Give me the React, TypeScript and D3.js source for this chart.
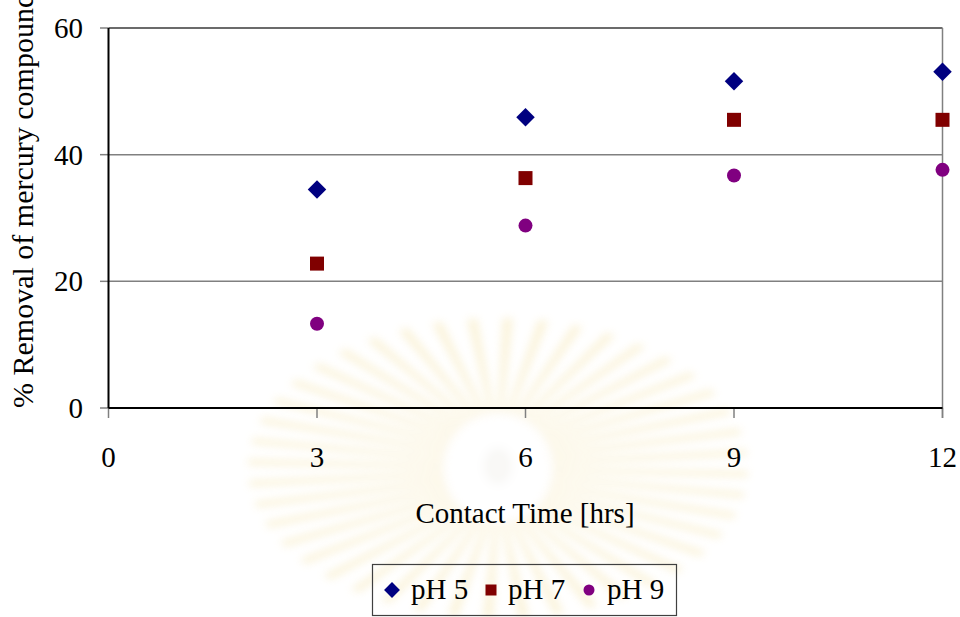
import React from "react";
import * as d3 from "d3";

// Contact time (hours) and % removal of mercury compounds at each pH
const contactHours = [3, 6, 9, 12];
const removalPH5 = [34.5, 45.9, 51.6, 53.1];
const removalPH7 = [22.8, 36.3, 45.5, 45.5];
const removalPH9 = [13.3, 28.8, 36.7, 37.6];

const xTicks = [0, 3, 6, 9, 12];
const yTicks = [0, 20, 40, 60];
const seriesNames = ["pH 5", "pH 7", "pH 9"];
const seriesColors = ["#000080", "#800000", "#800080"];

const W = 960;
const H = 617;
const FONT = "'Liberation Serif', 'Times New Roman', serif";

export default function App() {
  const x = d3.scaleLinear().domain([0, 12]).range([108.5, 942.5]);
  const y = d3.scaleLinear().domain([0, 60]).range([408, 28]);

  const series = [removalPH5, removalPH7, removalPH9];

  const diamond = (cx: number, cy: number, r: number) =>
    `M${cx},${cy - r}L${cx + r},${cy}L${cx},${cy + r}L${cx - r},${cy}Z`;

  const marker = (i: number, cx: number, cy: number, s: number) => {
    const c = seriesColors[i];
    if (i === 0) return <path d={diamond(cx, cy, s * 0.66)} fill={c} />;
    if (i === 1)
      return <rect x={cx - s / 2} y={cy - s / 2} width={s} height={s} fill={c} />;
    return <circle cx={cx} cy={cy} r={s / 2} fill={c} />;
  };

  // faint emblem behind the chart: a ring of soft rays around a pale centre
  const emblemCx = 498;
  const emblemCy = 468;
  const nRays = 44;
  const rays = d3.range(nRays).map((k) => {
    const step = (Math.PI * 2) / nRays;
    const a0 = k * step;
    const a1 = a0 + step * 0.55;
    const am = (a0 + a1) / 2;
    const r0 = 54;
    const rx = 250;
    const ry = 150;
    const p0 = [emblemCx + r0 * Math.cos(a0), emblemCy + r0 * Math.sin(a0)];
    const p1 = [emblemCx + r0 * Math.cos(a1), emblemCy + r0 * Math.sin(a1)];
    const t0 = [emblemCx + rx * Math.cos(am - step * 0.14), emblemCy + ry * Math.sin(am - step * 0.14)];
    const t1 = [emblemCx + rx * Math.cos(am + step * 0.14), emblemCy + ry * Math.sin(am + step * 0.14)];
    return `M${p0[0]},${p0[1]}L${t0[0]},${t0[1]}L${t1[0]},${t1[1]}L${p1[0]},${p1[1]}Z`;
  });

  return (
    <svg
      width={W}
      height={H}
      style={{ position: "fixed", left: 0, top: 0, background: "#fff" }}
      fontFamily={FONT}
    >
      <defs>
        <filter id="soft" x="-20%" y="-20%" width="140%" height="140%">
          <feGaussianBlur stdDeviation="4" />
        </filter>
      </defs>
      <rect width={W} height={H} fill="#fff" />

      <g filter="url(#soft)" opacity={0.42}>
        {rays.map((d, i) => (
          <path key={i} d={d} fill="#f4e2a6" />
        ))}
        <circle cx={emblemCx} cy={emblemCy} r={52} fill="#fff" />
        <ellipse cx={emblemCx} cy={emblemCy - 2} rx={14} ry={18} fill="#f1efea" />
      </g>

      {/* horizontal gridlines */}
      {yTicks
        .filter((t) => t > 0)
        .map((t) => (
          <line
            key={t}
            x1={x(0)}
            x2={x(12)}
            y1={y(t)}
            y2={y(t)}
            stroke={t === 60 ? "#3a3a3a" : "#808080"}
            strokeWidth={1.5}
          />
        ))}
      {/* right border */}
      <line x1={x(12)} x2={x(12)} y1={y(60)} y2={y(0) + 10} stroke="#808080" strokeWidth={1.5} />

      {/* y ticks */}
      {yTicks.map((t) => (
        <g key={t}>
          <line x1={100} x2={x(0)} y1={y(t)} y2={y(t)} stroke="#808080" strokeWidth={1.5} />
          <text x={83} y={y(t) + 10} textAnchor="end" fontSize={29} fill="#000">
            {t}
          </text>
        </g>
      ))}

      {/* x ticks */}
      {xTicks.map((t) => (
        <g key={t}>
          <line x1={x(t)} x2={x(t)} y1={y(0)} y2={y(0) + 10} stroke="#808080" strokeWidth={1.5} />
          <text x={x(t)} y={467} textAnchor="middle" fontSize={29} fill="#000">
            {t}
          </text>
        </g>
      ))}

      {/* axes */}
      <line x1={x(0)} x2={x(0)} y1={y(60)} y2={y(0)} stroke="#000" strokeWidth={2} />
      <line x1={x(0)} x2={x(12)} y1={y(0)} y2={y(0)} stroke="#000" strokeWidth={2} />

      {/* axis titles */}
      <text x={525} y={523} textAnchor="middle" fontSize={29} fill="#000">
        Contact Time [hrs]
      </text>
      <text
        transform={`translate(33,408) rotate(-90)`}
        textAnchor="start"
        fontSize={30}
        fill="#000"
      >
        % Removal of mercury compounds
      </text>

      {/* data points */}
      {series.map((vals, i) => (
        <g key={i}>
          {vals.map((v, j) => (
            <g key={j}>{marker(i, x(contactHours[j]), y(v), 14)}</g>
          ))}
        </g>
      ))}

      {/* legend */}
      <rect x={372.5} y={564.5} width={304} height={51} fill="none" stroke="#404040" strokeWidth={1.2} />
      {seriesNames.map((name, i) => {
        const mx = [392, 491, 589][i];
        const tx = [411, 508, 607][i];
        return (
          <g key={name}>
            {marker(i, mx, 590, i === 0 ? 12 : 11)}
            <text x={tx} y={599} fontSize={29} fill="#000">
              {name}
            </text>
          </g>
        );
      })}
    </svg>
  );
}
